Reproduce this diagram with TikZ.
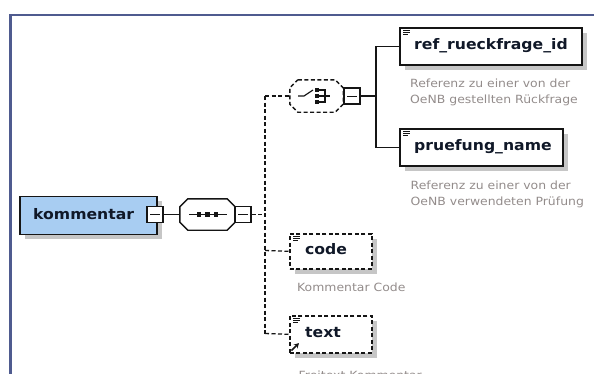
\documentclass[tikz,border=0pt]{standalone}
\usepackage{fontspec}
\newfontfamily\namefont[FakeStretch=1.08]{DejaVu Sans}
\newfontfamily\descfont[FakeStretch=1.1]{DejaVu Sans}
\usetikzlibrary{shadows,arrows.meta}

\definecolor{framecol}{HTML}{4F5B8F}
\definecolor{rootfill}{HTML}{A8CDF2}
\definecolor{shadowcol}{HTML}{C6C6C6}
\definecolor{desccol}{HTML}{938C8B}
\definecolor{inkcol}{HTML}{151515}
\definecolor{namecol}{HTML}{101828}

% octagon outline inside the rectangle of node #1, chamfer #2
\newcommand\octpath[2]{([shift={(#2,0)}]#1.north west) -- ([shift={(-#2,0)}]#1.north east)
  -- ([shift={(0,#2)}]#1.north east) -- ([shift={(0,-#2)}]#1.south east)
  -- ([shift={(-#2,0)}]#1.south east) -- ([shift={(#2,0)}]#1.south west)
  -- ([shift={(0,-#2)}]#1.south west) -- ([shift={(0,#2)}]#1.north west) -- cycle}

\begin{document}
\begin{tikzpicture}[x=1pt,y=-1pt,
  shadowed/.style={drop shadow={shadow xshift=5pt,shadow yshift=-5pt,fill=shadowcol,opacity=1}},
  docicon/.style={path picture={
      \draw[solid,line width=0.8pt,inkcol]
        ([shift={(3.5,2.6)}]path picture bounding box.north west) -- ++(7,0)
        ([shift={(3.5,4.6)}]path picture bounding box.north west) -- ++(7,0)
        ([shift={(3.5,6.6)}]path picture bounding box.north west) -- ++(5,0);}},
  elem/.style={draw=inkcol,line width=1.6pt,fill=white,shadowed,docicon,
               inner sep=0pt,anchor=north west},
  optelem/.style={elem,dash pattern=on 4pt off 2.5pt},
  rootbox/.style={draw=inkcol,line width=1.6pt,fill=rootfill,shadowed,
               inner sep=0pt,anchor=north west},
  collapse/.style={draw=inkcol,fill=white,line width=1.3pt,minimum size=16pt,
               inner sep=0pt,
               path picture={\draw[solid,line width=1pt,inkcol]
                 ([xshift=-5pt]path picture bounding box.center) --
                 ([xshift=5pt]path picture bounding box.center);}},
  compframe/.style={inner sep=0pt,draw=none},
  compline/.style={draw=inkcol,line width=1.4pt,fill=white},
  optcompline/.style={compline,dash pattern=on 4pt off 2.5pt},
  conn/.style={draw=inkcol,line width=1.3pt},
  optconn/.style={conn,dash pattern=on 4pt off 2.5pt},
  nametext/.style={font=\namefont\bfseries\fontsize{14.5}{16}\selectfont,text=namecol,
               anchor=west,inner sep=0pt},
  desctext/.style={font=\descfont\fontsize{11.3}{16.8}\selectfont,text=desccol,
               anchor=north west,align=left,inner sep=0pt},
  symbol/.style={line width=1.2pt,inkcol}
]
\useasboundingbox (0,0) rectangle (594,373);
\clip (0,0) rectangle (594,373);

% outer frame of the schema view
\draw[framecol,line width=2.5pt] (10.5,380) -- (10.5,15) -- (600,15);

% root element
\node[rootbox,minimum width=137pt,minimum height=38pt] (root) at (19,195.5) {};
\node[nametext] (rootT) at (33,214) {kommentar};
\node[collapse] (kc) at (155,214.5) {};

% sequence compositor
\node[compframe,minimum width=55pt,minimum height=31pt] (seq) at (207.5,214.5) {};
\fill[shadowcol,shift={(5,5)}] \octpath{seq}{8};
\draw[compline] \octpath{seq}{8};
\draw[symbol] ([xshift=-18.5pt]seq.center) -- ([xshift=19.5pt]seq.center);
\foreach \dx in {-8.5,0,8.5}
  \fill[inkcol] ([xshift=\dx pt]seq.center) +(-2.4,-2.4) rectangle +(2.4,2.4);
\node[collapse] (sc) at (243,214.5) {};

% optional choice compositor
\node[compframe,minimum width=53pt,minimum height=32pt] (choice) at (316.5,96) {};
\fill[shadowcol,shift={(5,5)}] \octpath{choice}{8};
\draw[optcompline] \octpath{choice}{8};
\draw[symbol] ([shift={(-18.5,0)}]choice.center) -- ([shift={(-12.5,0)}]choice.center)
              -- ([shift={(-3.5,-6)}]choice.center);
\foreach \dy in {-6,0,6}
  \fill[inkcol] ([shift={(0.5,\dy)}]choice.center) +(-2,-2) rectangle +(2,2);
\draw[symbol] ([shift={(2.5,-6)}]choice.center) -- ([shift={(8.5,-6)}]choice.center)
              -- ([shift={(8.5,6)}]choice.center) -- ([shift={(2.5,6)}]choice.center)
              ([shift={(2.5,0)}]choice.center) -- ([shift={(13,0)}]choice.center);
\node[collapse] (cc) at (352,96) {};

% child elements
\node[elem,minimum width=182pt,minimum height=37pt] (ref) at (399,27) {};
\node[nametext] (refT) at (414,45.5) {ref\_rueckfrage\_id};
\node[desctext] (refD) at (410,78.3) {Referenz zu einer von der\\OeNB gestellten Rückfrage};

\node[elem,minimum width=163pt,minimum height=37pt] (pru) at (399,128) {};
\node[nametext] (pruT) at (414,146.5) {pruefung\_name};
\node[desctext] (pruD) at (410.5,180.3) {Referenz zu einer von der\\OeNB verwendeten Prüfung};

\node[optelem,minimum width=82pt,minimum height=35pt] (code) at (289,233) {};
\node[nametext] (codeT) at (305,249.5) {code};
\node[desctext] (codeD) at (297,282.3) {Kommentar Code};

\node[optelem,minimum width=82pt,minimum height=37pt] (txt) at (289,315) {};
\node[nametext] (txtT) at (305,333) {text};
\node[desctext] (txtD) at (298.5,370.8) {Freitext Kommentar};
\draw[line width=1.6pt,inkcol,-{Stealth[length=5pt,width=5.5pt]}]
  ([shift={(2.5,-3)}]txt.south west) -- ++(7.5,-7.5);

% connectors
\coordinate (j1) at (265,96);
\coordinate (j2) at (265,214.5);
\coordinate (j3) at (265,250.5);
\coordinate (j4) at (265,333.5);
\coordinate (b0) at (376,96);

\draw[conn] (kc.east) -- (seq.west);
\draw[optconn] (sc.east) -- (j2);
\draw[optconn] (j1) -- (j4);
\draw[optconn] (j1) -- (choice.west);
\draw[optconn] (j3) -- (code.west);
\draw[optconn] (j4) -- (txt.west);
\draw[conn] (cc.east) -- (b0);
\draw[conn] (b0) |- (ref.west);
\draw[conn] (b0) |- (pru.west);
\end{tikzpicture}
\end{document}
